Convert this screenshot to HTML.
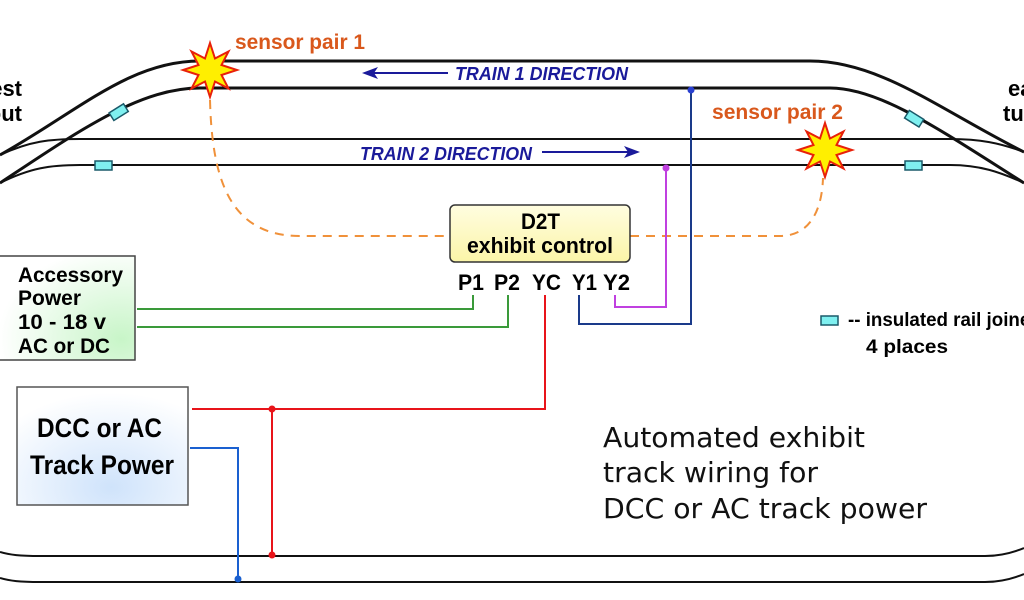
<!DOCTYPE html>
<html><head><meta charset="utf-8"><style>
html,body{margin:0;padding:0;background:#fff;}
svg{display:block;}
text{font-family:"Liberation Sans",sans-serif;}
</style></head><body>
<svg width="1024" height="600" viewBox="0 0 1024 600" xmlns="http://www.w3.org/2000/svg">
<defs>
<radialGradient id="gb" cx="0.55" cy="0.85" r="0.8"><stop offset="0" stop-color="#cfe3fb"/><stop offset="1" stop-color="#ffffff"/></radialGradient>
<radialGradient id="gg" cx="0.9" cy="0.8" r="0.9"><stop offset="0" stop-color="#c8f5c8"/><stop offset="1" stop-color="#ffffff"/></radialGradient>
<linearGradient id="gy" x1="0" y1="0" x2="0" y2="1"><stop offset="0" stop-color="#fffde0"/><stop offset="1" stop-color="#fbf5a8"/></linearGradient>
<polygon id="star" points="0,-27 5,-11.5 18.5,-18.5 11.5,-5 27,0 11.5,5 18.5,18.5 5,11.5 0,27 -5,11.5 -18.5,18.5 -11.5,5 -27,0 -11.5,-5 -18.5,-18.5 -5,-11.5" fill="#ffef00" stroke="#e8200a" stroke-width="2"/>
</defs>
<g fill="none" stroke="#111">
<path d="M0,155 C80,110 130,61 200,61 L810,61 C880,61 940,110 1024,152" stroke-width="3"/>
<path d="M0,183 C80,130 140,88 200,88 L830,88 C880,88 940,130 1024,183" stroke-width="3"/>
<path d="M0,155 C30,141 50,139 80,139 L950,139 C980,139 1000,143 1024,152" stroke-width="2"/>
<path d="M0,183 C30,168 50,165 80,165 L950,165 C980,165 1000,172 1024,183" stroke-width="2"/>
<path d="M0,552 C10,555 20,556 40,556 L985,556 C1000,556 1012,553 1024,548" stroke-width="2"/>
<path d="M0,578 C10,581 20,582 40,582 L985,582 C1000,582 1012,579 1024,574" stroke-width="2"/>
</g>
<g fill="#7ff0f0" stroke="#1a5a6a" stroke-width="1.5">
<rect x="110" y="108" width="17" height="9" transform="rotate(-32 118 112)"/>
<rect x="95" y="161" width="17" height="9"/>
<rect x="906" y="114" width="17" height="9" transform="rotate(32 914 118)"/>
<rect x="905" y="161" width="17" height="9"/>
<rect x="821" y="316" width="17" height="9"/>
</g>
<path d="M210,100 C212,180 230,236 300,236 L450,236 M630,236 L780,236 C810,236 822,210 823,178" fill="none" stroke="#f0913a" stroke-width="2" stroke-dasharray="9,7"/>
<use href="#star" x="210" y="70"/>
<use href="#star" x="825" y="150"/>
<g font-size="21" font-weight="bold" fill="#d9581c" lengthAdjust="spacingAndGlyphs">
<text x="235" y="49" textLength="130" lengthAdjust="spacingAndGlyphs">sensor pair 1</text>
<text x="712" y="119" textLength="131" lengthAdjust="spacingAndGlyphs">sensor pair 2</text>
</g>
<g fill="#1a1a9a" font-weight="bold">
<text x="455" y="80" font-size="18" font-style="italic" textLength="173" lengthAdjust="spacingAndGlyphs">TRAIN 1 DIRECTION</text>
<text x="360" y="160" font-size="18" font-style="italic" textLength="172" lengthAdjust="spacingAndGlyphs">TRAIN 2 DIRECTION</text>
<polygon points="362,73 378,67 374,73 378,79"/>
<polygon points="640,152 624,146 628,152 624,158"/>
</g>
<g stroke="#1a1a9a" stroke-width="2"><line x1="374" y1="73" x2="448" y2="73"/><line x1="542" y1="152" x2="628" y2="152"/></g>
<g fill="none" stroke-width="2">
<path d="M473,295 V309 H137 M508,295 V327 H137" stroke="#3a9a3a"/>
<path d="M545,295 V409 H192 M272,409 V555" stroke="#e8141a"/>
<path d="M579,295 V324 H691 V90" stroke="#1a3a8a"/>
<path d="M615,295 V307 H666 V168" stroke="#c040e0"/>
<path d="M190,448 H238 V579" stroke="#1a60d0"/>
</g>
<circle cx="272" cy="409" r="3.5" fill="#e8141a"/><circle cx="272" cy="555" r="3.5" fill="#e8141a"/>
<circle cx="238" cy="579" r="3.5" fill="#1a60d0"/><circle cx="691" cy="90" r="3.5" fill="#2a40d0"/><circle cx="666" cy="168" r="3.5" fill="#c040e0"/>
<rect x="450" y="205" width="180" height="57" rx="5" fill="url(#gy)" stroke="#333" stroke-width="1.5"/>
<g font-weight="bold" font-size="22">
<text x="521" y="229" textLength="39" lengthAdjust="spacingAndGlyphs">D2T</text>
<text x="467" y="253" textLength="146" lengthAdjust="spacingAndGlyphs">exhibit control</text>
<text x="458" y="290" textLength="26" lengthAdjust="spacingAndGlyphs">P1</text>
<text x="494" y="290" textLength="26" lengthAdjust="spacingAndGlyphs">P2</text>
<text x="532" y="290" textLength="29" lengthAdjust="spacingAndGlyphs">YC</text>
<text x="572" y="290" textLength="25" lengthAdjust="spacingAndGlyphs">Y1</text>
<text x="603" y="290" textLength="27" lengthAdjust="spacingAndGlyphs">Y2</text>
</g>
<rect x="-2" y="256" width="137" height="104" fill="url(#gg)" stroke="#444" stroke-width="1.5"/>
<g font-size="21" font-weight="bold">
<text x="18" y="282" textLength="105" lengthAdjust="spacingAndGlyphs">Accessory</text>
<text x="18" y="305" textLength="63" lengthAdjust="spacingAndGlyphs">Power</text>
<text x="18" y="329" textLength="88" lengthAdjust="spacingAndGlyphs">10 - 18 v</text>
<text x="18" y="353" textLength="92" lengthAdjust="spacingAndGlyphs">AC or DC</text>
</g>
<rect x="17" y="387" width="171" height="118" fill="url(#gb)" stroke="#555" stroke-width="1.5"/>
<g font-size="27" font-weight="bold">
<text x="37" y="437" textLength="125" lengthAdjust="spacingAndGlyphs">DCC or AC</text>
<text x="30" y="474" textLength="144" lengthAdjust="spacingAndGlyphs">Track Power</text>
</g>
<g font-size="19" font-weight="bold">
<text x="848" y="326" textLength="200" lengthAdjust="spacingAndGlyphs">-- insulated rail joiners</text>
<text x="866" y="353" textLength="82" lengthAdjust="spacingAndGlyphs">4 places</text>
</g>
<g font-size="22" font-weight="bold"><text x="22" y="96" text-anchor="end">est</text><text x="22" y="121" text-anchor="end">out</text><text x="1008" y="96">ea</text><text x="1003" y="121">tu</text></g>
<g font-size="28" fill="#111">
<text x="603" y="447" textLength="262" lengthAdjust="spacingAndGlyphs" style="font-family:'DejaVu Sans',sans-serif">Automated exhibit</text>
<text x="603" y="482" textLength="215" lengthAdjust="spacingAndGlyphs" style="font-family:'DejaVu Sans',sans-serif">track wiring for</text>
<text x="603" y="518" textLength="324" lengthAdjust="spacingAndGlyphs" style="font-family:'DejaVu Sans',sans-serif">DCC or AC track power</text>
</g>
</svg>
</body></html>
